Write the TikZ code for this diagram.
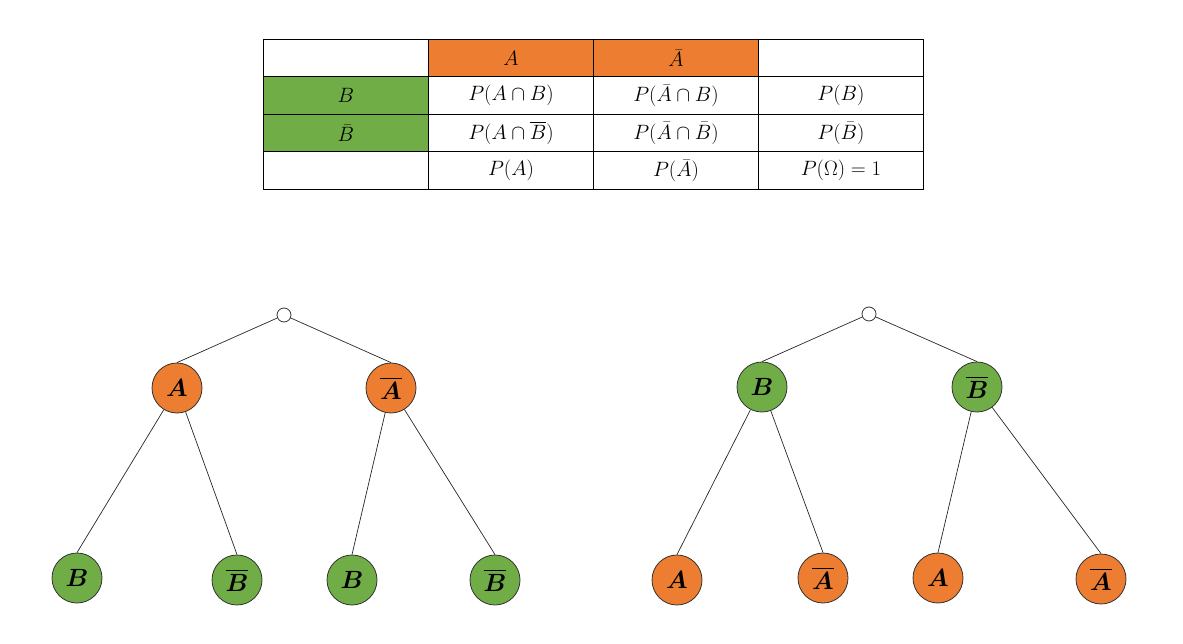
\documentclass[tikz,border=0pt]{standalone}
\usepackage{amsmath,bm}
\definecolor{org}{HTML}{ED7D31}
\definecolor{grn}{HTML}{70AD47}
\begin{document}
\begin{tikzpicture}[x=1pt,y=-1pt,
  cell/.style={draw=black,line width=0.9pt,minimum width=165pt,minimum height=37.5pt,inner sep=0pt,anchor=north west,font=\fontsize{19.5}{22}\selectfont},
  ev/.style={circle,draw=black!80,line width=0.8pt,minimum size=50pt,inner sep=0pt,font=\fontsize{25}{28}\selectfont},
  ora/.style={ev,fill=org},
  gre/.style={ev,fill=grn},
  rootn/.style={circle,draw=black!80,fill=white,line width=0.8pt,minimum size=14pt,inner sep=0pt},
  edge/.style={draw=black!85,line width=0.7pt}]
\useasboundingbox (0,0) rectangle (1183,644);
% table
\node[cell] (t00) at (263,39) {};
\node[cell,fill=org] (t01) at (428,39) {$A$};
\node[cell,fill=org] (t02) at (593,39) {$\bar{A}$};
\node[cell] (t03) at (758,39) {};
\node[cell,fill=grn] (t10) at (263,76.5) {$B$};
\node[cell] (t11) at (428,76.5) {$P(A\cap B)$};
\node[cell] (t12) at (593,76.5) {$P(\bar{A}\cap B)$};
\node[cell] (t13) at (758,76.5) {$P(B)$};
\node[cell,fill=grn] (t20) at (263,114) {$\bar{B}$};
\node[cell] (t21) at (428,114) {$P(A\cap \overline{B})$};
\node[cell] (t22) at (593,114) {$P(\bar{A}\cap\bar{B})$};
\node[cell] (t23) at (758,114) {$P(\bar{B})$};
\node[cell] (t30) at (263,151.5) {};
\node[cell] (t31) at (428,151.5) {$P(A)$};
\node[cell] (t32) at (593,151.5) {$P(\bar{A})$};
\node[cell] (t33) at (758,151.5) {$P(\Omega)=1$};
% left tree
\node[rootn] (r1) at (284,315) {};
\node[ora] (a1) at (177,388) {$\bm{A}$};
\node[ora] (a2) at (391,388) {$\overline{\bm{A}}$};
\node[gre] (l1) at (77,578) {$\bm{B}$};
\node[gre] (l2) at (237,580) {$\overline{\bm{B}}$};
\node[gre] (l3) at (352,580) {$\bm{B}$};
\node[gre] (l4) at (495,580) {$\overline{\bm{B}}$};
\draw[edge] (r1) -- (a1.north);
\draw[edge] (r1) -- (a2.north);
\draw[edge] (a1) -- (l1.north);
\draw[edge] (a1) -- (l2.north);
\draw[edge] (a2) -- (l3.north);
\draw[edge] (a2) -- (l4.north);
% right tree
\node[rootn] (r2) at (869,314) {};
\node[gre] (b1) at (762,387) {$\bm{B}$};
\node[gre] (b2) at (977,387) {$\overline{\bm{B}}$};
\node[ora] (m1) at (677,580) {$\bm{A}$};
\node[ora] (m2) at (823,578) {$\overline{\bm{A}}$};
\node[ora] (m3) at (938,578) {$\bm{A}$};
\node[ora] (m4) at (1101,579) {$\overline{\bm{A}}$};
\draw[edge] (r2) -- (b1.north);
\draw[edge] (r2) -- (b2.north);
\draw[edge] (b1) -- (m1.north);
\draw[edge] (b1) -- (m2.north);
\draw[edge] (b2) -- (m3.north);
\draw[edge] (b2) -- (m4.north);
\end{tikzpicture}
\end{document}
